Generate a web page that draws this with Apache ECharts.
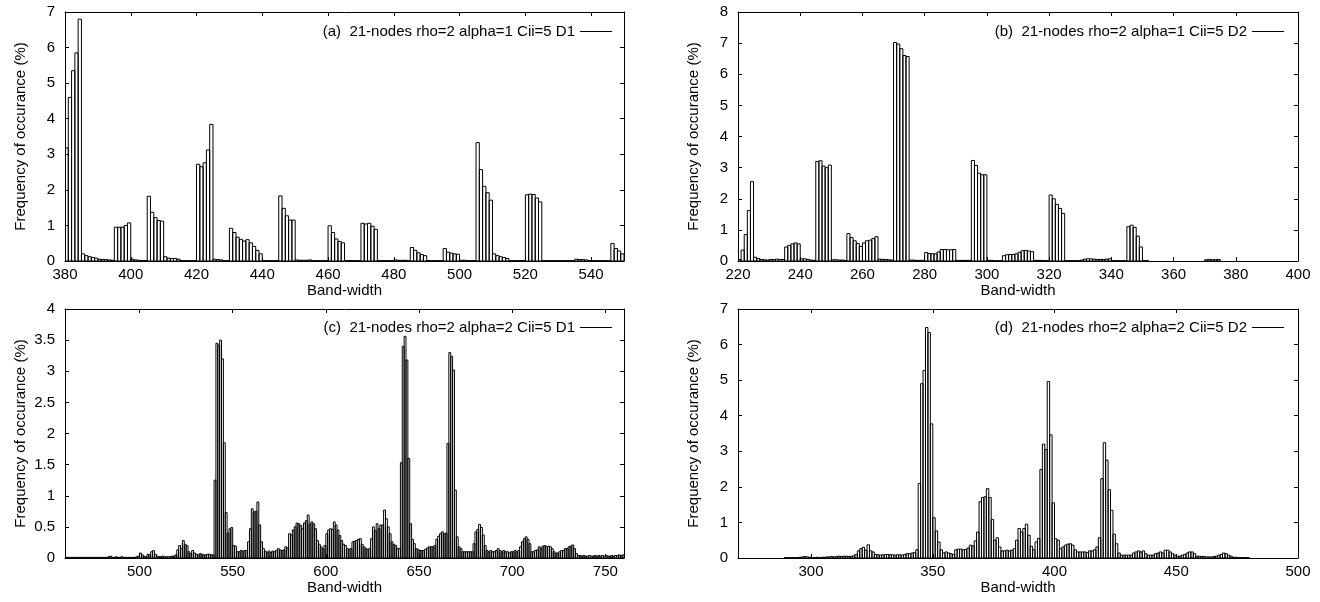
<!DOCTYPE html>
<html>
<head>
<meta charset="utf-8">
<script src="https://cdn.jsdelivr.net/npm/echarts@6/dist/echarts.min.js"></script>
<style>
html, body { margin: 0; padding: 0; background: #fff; }
#chart { width: 1320px; height: 602px; }
</style>
</head>
<body>
<div id="chart"></div>
<script>
// frequency of occurance (%) per unit band-width bin, bins start at startX
var startA = 380;
var freqA = [
  3.18, 4.6, 5.35, 5.85, 6.8, 0.2, 0.15, 0.12, 0.1, 0.08,
  0.05, 0.04, 0.04, 0.03, 0.02, 0.95, 0.95, 0.95, 1.0, 1.07,
  0.05, 0.03, 0.02, 0.01, 0.01, 1.82, 1.37, 1.22, 1.14, 1.12,
  0.12, 0.08, 0.07, 0.07, 0.05, 0.01, 0.01, 0.01, 0.01, 0.01,
  2.72, 2.65, 2.76, 3.12, 3.84, 0.05, 0.04, 0.03, 0.01, 0.01,
  0.92, 0.8, 0.67, 0.61, 0.56, 0.6, 0.51, 0.41, 0.3, 0.2,
  0.01, 0.01, 0.01, 0.01, 0.01, 1.83, 1.48, 1.27, 1.15, 1.15,
  0.03, 0.02, 0.02, 0.02, 0.03, 0.01, 0.01, 0.01, 0.01, 0.01,
  0.99, 0.8, 0.62, 0.55, 0.51, 0.01, 0.01, 0.01, 0.01, 0.01,
  1.06, 1.04, 1.06, 0.98, 0.89, 0.01, 0.01, 0.01, 0.01, 0.01,
  0.03, 0.02, 0.02, 0.02, 0.01, 0.38, 0.3, 0.23, 0.18, 0.15,
  0.01, 0.01, 0.01, 0.01, 0.01, 0.35, 0.25, 0.22, 0.2, 0.19,
  0.02, 0.02, 0.01, 0.01, 0.01, 3.33, 2.57, 2.1, 1.92, 1.71,
  0.2, 0.15, 0.12, 0.1, 0.07, 0.01, 0.01, 0.01, 0.01, 0.01,
  1.86, 1.88, 1.87, 1.77, 1.66, 0.01, 0.01, 0.01, 0.01, 0.01,
  0.01, 0.01, 0.01, 0.01, 0.01, 0.05, 0.04, 0.04, 0.03, 0.01,
  0.01, 0.01, 0.01, 0.01, 0.01, 0.01, 0.49, 0.35, 0.28, 0.2
];

var startB = 220;
var freqB = [
  0.05, 0.35, 0.85, 1.62, 2.55, 0.12, 0.08, 0.05, 0.04, 0.03,
  0.05, 0.05, 0.06, 0.05, 0.05, 0.45, 0.5, 0.55, 0.58, 0.55,
  0.07, 0.07, 0.05, 0.03, 0.02, 3.2, 3.22, 3.05, 3.0, 3.08,
  0.04, 0.04, 0.03, 0.03, 0.02, 0.88, 0.75, 0.65, 0.56, 0.47,
  0.58, 0.65, 0.67, 0.72, 0.78, 0.06, 0.05, 0.05, 0.04, 0.03,
  7.02, 6.97, 6.82, 6.6, 6.57, 0.03, 0.03, 0.02, 0.02, 0.02,
  0.27, 0.24, 0.23, 0.23, 0.29, 0.37, 0.37, 0.36, 0.36, 0.37,
  0.02, 0.02, 0.02, 0.02, 0.02, 3.23, 3.07, 2.82, 2.77, 2.77,
  0.02, 0.02, 0.01, 0.01, 0.01, 0.17, 0.2, 0.21, 0.21, 0.23,
  0.28, 0.33, 0.34, 0.32, 0.3, 0.02, 0.02, 0.02, 0.01, 0.01,
  2.12, 2.0, 1.82, 1.69, 1.53, 0.01, 0.01, 0.01, 0.01, 0.01,
  0.03, 0.06, 0.07, 0.07, 0.06, 0.05, 0.05, 0.05, 0.06, 0.07,
  0.01, 0.01, 0.01, 0.01, 0.01, 1.1, 1.15, 1.08, 0.8, 0.45,
  0.01, 0.01, 0, 0, 0, 0, 0, 0, 0, 0,
  0, 0, 0, 0, 0, 0, 0, 0, 0, 0,
  0.04, 0.05, 0.04, 0.04, 0.05, 0, 0, 0, 0, 0,
  0, 0, 0, 0, 0, 0, 0, 0, 0, 0,
  0, 0, 0, 0, 0, 0, 0, 0, 0, 0
];

var startC = 460;
var freqC = [
  0.01, 0.01, 0.01, 0.01, 0.01, 0.01, 0.01, 0.01, 0.01, 0.01,
  0.01, 0.01, 0.01, 0.01, 0.01, 0.01, 0.01, 0.01, 0.01, 0.01,
  0.01, 0.01, 0.01, 0.02, 0.03, 0.01, 0.01, 0.02, 0.01, 0.01,
  0.02, 0.01, 0.01, 0.01, 0.01, 0.01, 0.01, 0.01, 0.02, 0.03,
  0.08, 0.05, 0.03, 0.02, 0.06, 0.05, 0.1, 0.12, 0.06, 0.03,
  0.02, 0.02, 0.03, 0.02, 0.02, 0.02, 0.02, 0.03, 0.03, 0.05,
  0.13, 0.2, 0.15, 0.28, 0.22, 0.2, 0.1, 0.07, 0.12, 0.08,
  0.06, 0.05, 0.07, 0.06, 0.05, 0.05, 0.06, 0.06, 0.05, 0.05,
  1.25, 3.45, 3.42, 3.5, 3.2, 1.85, 0.73, 0.4, 0.47, 0.49,
  0.2, 0.19, 0.1, 0.1, 0.12, 0.11, 0.12, 0.12, 0.26, 0.47,
  0.79, 0.74, 0.75, 0.9, 0.53, 0.26, 0.15, 0.11, 0.09, 0.11,
  0.09, 0.11, 0.1, 0.12, 0.15, 0.13, 0.12, 0.13, 0.18, 0.16,
  0.39, 0.37, 0.45, 0.5, 0.56, 0.55, 0.52, 0.47, 0.56, 0.6,
  0.69, 0.55, 0.58, 0.55, 0.47, 0.28, 0.22, 0.18, 0.15, 0.2,
  0.39, 0.45, 0.47, 0.46, 0.58, 0.53, 0.45, 0.36, 0.28, 0.22,
  0.2, 0.15, 0.14, 0.15, 0.26, 0.27, 0.28, 0.3, 0.31, 0.22,
  0.18, 0.15, 0.14, 0.15, 0.31, 0.5, 0.44, 0.55, 0.47, 0.53,
  0.53, 0.77, 0.63, 0.5, 0.39, 0.26, 0.22, 0.2, 0.15, 0.15,
  1.53, 3.4, 3.56, 3.18, 1.6, 0.55, 0.3, 0.23, 0.15, 0.14,
  0.12, 0.12, 0.12, 0.14, 0.16, 0.18, 0.18, 0.18, 0.2, 0.3,
  0.35, 0.39, 0.42, 0.39, 0.4, 1.84, 3.3, 3.24, 3.02, 1.09,
  0.34, 0.18, 0.15, 0.1, 0.1, 0.1, 0.1, 0.1, 0.1, 0.23,
  0.42, 0.46, 0.54, 0.49, 0.37, 0.2, 0.12, 0.1, 0.12, 0.1,
  0.1, 0.12, 0.15, 0.12, 0.1, 0.12, 0.1, 0.1, 0.08, 0.1,
  0.1, 0.12, 0.1, 0.12, 0.18, 0.26, 0.31, 0.34, 0.3, 0.23,
  0.1, 0.1, 0.12, 0.13, 0.18, 0.16, 0.19, 0.2, 0.18, 0.19,
  0.18, 0.15, 0.1, 0.08, 0.08, 0.1, 0.12, 0.12, 0.15, 0.15,
  0.18, 0.19, 0.21, 0.15, 0.07, 0.04, 0.04, 0.03, 0.04, 0.03,
  0.03, 0.04, 0.03, 0.03, 0.04, 0.03, 0.04, 0.03, 0.04, 0.03,
  0.04, 0.03, 0.03, 0.04, 0.03, 0.04, 0.04, 0.05, 0.04, 0.05
];

var startD = 270;
var freqD = [
  0, 0, 0, 0, 0, 0, 0, 0, 0, 0,
  0, 0, 0, 0, 0, 0, 0, 0, 0, 0.01,
  0.01, 0.01, 0.01, 0.01, 0.01, 0.02, 0.03, 0.04, 0.03, 0.02,
  0.01, 0.01, 0.02, 0.01, 0.02, 0.02, 0.03, 0.03, 0.04, 0.03,
  0.04, 0.05, 0.04, 0.05, 0.05, 0.04, 0.05, 0.06, 0.1, 0.2,
  0.26, 0.3, 0.22, 0.37, 0.2, 0.17, 0.1, 0.09, 0.08, 0.09,
  0.09, 0.1, 0.09, 0.09, 0.08, 0.09, 0.09, 0.08, 0.1, 0.12,
  0.12, 0.14, 0.15, 0.23, 2.09, 4.9, 5.27, 6.48, 6.34, 3.77,
  1.13, 0.76, 0.45, 0.23, 0.14, 0.17, 0.14, 0.12, 0.1, 0.23,
  0.25, 0.25, 0.23, 0.24, 0.28, 0.36, 0.34, 0.48, 0.73, 1.58,
  1.7, 1.72, 1.95, 1.7, 1.08, 0.5, 0.57, 0.31, 0.2, 0.2,
  0.22, 0.2, 0.22, 0.26, 0.5, 0.83, 0.73, 0.83, 0.95, 0.64,
  0.33, 0.23, 0.45, 0.55, 2.49, 3.2, 3.05, 4.96, 3.46, 1.55,
  0.54, 0.5, 0.26, 0.31, 0.36, 0.39, 0.4, 0.36, 0.23, 0.17,
  0.17, 0.17, 0.17, 0.15, 0.2, 0.2, 0.23, 0.31, 0.57, 2.23,
  3.24, 2.75, 1.92, 1.34, 0.67, 0.4, 0.14, 0.08, 0.08, 0.08,
  0.08, 0.08, 0.14, 0.17, 0.2, 0.17, 0.2, 0.12, 0.08, 0.08,
  0.08, 0.12, 0.14, 0.17, 0.14, 0.22, 0.22, 0.17, 0.12, 0.08,
  0.05, 0.05, 0.08, 0.1, 0.14, 0.17, 0.17, 0.12, 0.05, 0.05,
  0.04, 0.04, 0.03, 0.03, 0.03, 0.04, 0.05, 0.08, 0.1, 0.14,
  0.12, 0.08, 0.05, 0.02, 0.02, 0.01, 0.01, 0.01, 0.01, 0.01,
  0, 0, 0, 0, 0, 0, 0, 0, 0, 0,
  0, 0, 0, 0, 0, 0, 0, 0, 0, 0
];

// tick labels
var xTicksA = [380, 400, 420, 440, 460, 480, 500, 520, 540];
var xTicksB = [220, 240, 260, 280, 300, 320, 340, 360, 380, 400];
var xTicksC = [500, 550, 600, 650, 700, 750];
var xTicksD = [300, 350, 400, 450, 500];

var titleA = '(a)  21-nodes rho=2 alpha=1 Cii=5 D1';
var titleB = '(b)  21-nodes rho=2 alpha=1 Cii=5 D2';
var titleC = '(c)  21-nodes rho=2 alpha=2 Cii=5 D1';
var titleD = '(d)  21-nodes rho=2 alpha=2 Cii=5 D2';

var FONT = '"Liberation Sans", Arial, Helvetica, sans-serif';

var panels = [
  {name: titleA, start: startA, freq: freqA, xMin: 380, xMax: 550, xTicks: xTicksA, yMax: 7, yStep: 1,
   grid: {left: 65, top: 12, width: 559, height: 249}, legend: {right: 708, top: 24}},
  {name: titleB, start: startB, freq: freqB, xMin: 220, xMax: 400, xTicks: xTicksB, yMax: 8, yStep: 1,
   grid: {left: 738, top: 12, width: 560, height: 249}, legend: {right: 36, top: 24}},
  {name: titleC, start: startC, freq: freqC, xMin: 460, xMax: 760, xTicks: xTicksC, yMax: 4, yStep: 0.5,
   grid: {left: 65, top: 309, width: 559, height: 249}, legend: {right: 708, top: 320}},
  {name: titleD, start: startD, freq: freqD, xMin: 270, xMax: 500, xTicks: xTicksD, yMax: 7, yStep: 1,
   grid: {left: 738, top: 309, width: 560, height: 249}, legend: {right: 36, top: 320}}
];

var black = {color: '#000', width: 1};

function renderBin(params, api) {
  var x = api.value(0), y = api.value(1);
  if (!y) return null;
  var p0 = api.coord([x, y]);
  var p1 = api.coord([x + 1, 0]);
  return {
    type: 'rect',
    shape: {x: p0[0], y: p0[1], width: p1[0] - p0[0], height: p1[1] - p0[1]},
    style: {fill: 'none', stroke: '#000', lineWidth: 1}
  };
}

var option = {
  animation: false,
  backgroundColor: '#fff',
  textStyle: {fontFamily: FONT},
  grid: [], xAxis: [], yAxis: [], legend: [], series: []
};

panels.forEach(function (p, i) {
  option.grid.push(p.grid);
  // bottom and mirrored top x axes
  option.xAxis.push({
    type: 'value', gridIndex: i, min: p.xMin, max: p.xMax, position: 'bottom',
    name: 'Band-width', nameLocation: 'middle', nameGap: 21,
    nameTextStyle: {fontSize: 15, color: '#000', fontFamily: FONT},
    axisLine: {show: true, onZero: false, lineStyle: black},
    axisTick: {show: true, inside: true, length: 4, customValues: p.xTicks, lineStyle: black},
    axisLabel: {show: true, customValues: p.xTicks, margin: 6, fontSize: 15, color: '#000', fontFamily: FONT},
    splitLine: {show: false}
  });
  option.xAxis.push({
    type: 'value', gridIndex: i, min: p.xMin, max: p.xMax, position: 'top',
    axisLine: {show: true, onZero: false, lineStyle: black},
    axisTick: {show: true, inside: true, length: 4, customValues: p.xTicks, lineStyle: black},
    axisLabel: {show: false},
    splitLine: {show: false}
  });
  // left and mirrored right y axes
  option.yAxis.push({
    type: 'value', gridIndex: i, min: 0, max: p.yMax, interval: p.yStep, position: 'left',
    name: 'Frequency of occurance (%)', nameLocation: 'middle', nameGap: 37, nameRotate: 90,
    nameTextStyle: {fontSize: 15, color: '#000', fontFamily: FONT},
    axisLine: {show: true, onZero: false, lineStyle: black},
    axisTick: {show: true, inside: true, length: 4, lineStyle: black},
    axisLabel: {show: true, margin: 10, fontSize: 15, color: '#000', fontFamily: FONT},
    splitLine: {show: false}
  });
  option.yAxis.push({
    type: 'value', gridIndex: i, min: 0, max: p.yMax, interval: p.yStep, position: 'right',
    axisLine: {show: true, onZero: false, lineStyle: black},
    axisTick: {show: true, inside: true, length: 4, lineStyle: black},
    axisLabel: {show: false},
    splitLine: {show: false}
  });
  option.legend.push({
    data: [{name: p.name, icon: 'rect', itemStyle: {color: '#000'}}],
    right: p.legend.right, top: p.legend.top, align: 'right', orient: 'horizontal',
    itemWidth: 32, itemHeight: 1, padding: 0, selectedMode: false,
    textStyle: {fontSize: 15, color: '#000', fontFamily: FONT}
  });
  option.series.push({
    name: p.name, type: 'custom', xAxisIndex: 2 * i, yAxisIndex: 2 * i,
    clip: true, silent: true, itemStyle: {color: '#000'},
    renderItem: renderBin,
    data: p.freq.map(function (v, k) { return [p.start + k, v]; })
  });
});

var chart = echarts.init(document.getElementById('chart'));
chart.setOption(option);
</script>
</body>
</html>
